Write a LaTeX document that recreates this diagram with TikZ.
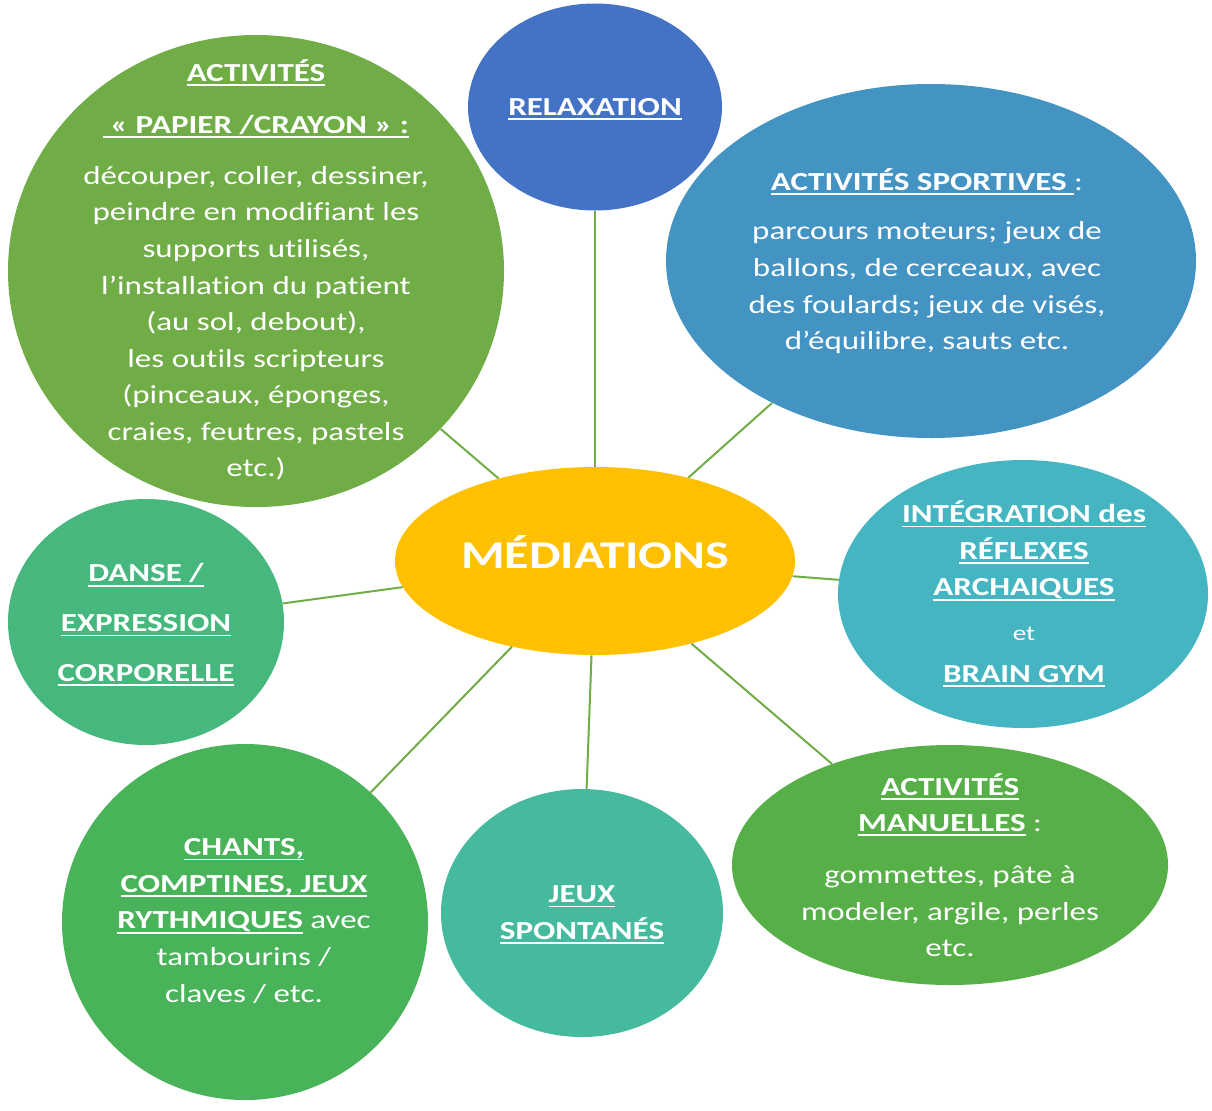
\documentclass[tikz,border=0pt]{standalone}
\usepackage{fontspec}
\setmainfont{Carlito}[FakeStretch=1.27, Ligatures=NoCommon]
\usetikzlibrary{shapes.geometric}
\newcommand\ulx[1]{\leavevmode\setbox0\hbox{#1}\rlap{\rule[-3.4pt]{\wd0}{1.4pt}}\box0}
\definecolor{cPap}{HTML}{70AD47}
\definecolor{cRel}{HTML}{4472C4}
\definecolor{cSpo}{HTML}{4494C3}
\definecolor{cInt}{HTML}{45B6C1}
\definecolor{cDan}{HTML}{46B87E}
\definecolor{cCha}{HTML}{48B359}
\definecolor{cJeu}{HTML}{45BA9F}
\definecolor{cMan}{HTML}{57AF48}
\definecolor{cMed}{HTML}{FFC000}
\definecolor{cLink}{HTML}{70AD47}
\newcommand\bodyfont{\fontsize{19.5}{27.4}\selectfont}
\begin{document}
\begin{tikzpicture}[x=0.75pt,y=-0.75pt,
  blob/.style 2 args={ellipse, draw=none, inner sep=0pt, minimum width=#1*0.75pt, minimum height=#2*0.75pt},
  txt/.style={text=white, align=center, inner sep=0pt, font=\bodyfont},
  link/.style={draw=cLink, line width=1.5pt}]
\useasboundingbox (0,0) rectangle (1212,1110);
\fill[white] (0,0) rectangle (1212,1110);
% shapes
\node[blob={496}{472}, fill=cPap] (pap) at (256,271) {};
\node[blob={254}{207}, fill=cRel] (rel) at (595,107) {};
\node[blob={530}{354}, fill=cSpo] (spo) at (931,261) {};
\node[blob={370}{268}, fill=cInt] (int) at (1023,594) {};
\node[blob={276}{246}, fill=cDan] (dan) at (146,622) {};
\node[blob={366}{356}, fill=cCha] (cha) at (245,922) {};
\node[blob={282}{248}, fill=cJeu] (jeu) at (582,913) {};
\node[blob={436}{240}, fill=cMan] (man) at (950,865) {};
\node[blob={400}{188}, fill=cMed] (med) at (595,561) {};
% connectors
\draw[link] (med) -- (rel);
\draw[link] (med) -- (pap);
\draw[link] (med) -- (spo);
\draw[link] (med) -- (int);
\draw[link] (med) -- (dan);
\draw[link] (med) -- (cha);
\draw[link] (med) -- (jeu);
\draw[link] (med) -- (man);
% texts
\node[txt, font=\fontsize{29.5}{34}\selectfont\bfseries] (medT) at (595,552) {MÉDIATIONS};
\node[txt, font=\bodyfont\bfseries] (relT) at (595,109) {\ulx{RELAXATION}};
\node[txt] (papT) at (256,270) {%
{\bfseries\ulx{ACTIVITÉS}}\\[11.6pt]
{\bfseries\ulx{~« PAPIER /CRAYON » :}}\\[10.8pt]
découper, coller, dessiner,\\ peindre en modifiant les\\ supports utilisés,\\
l’installation du patient\\ (au sol, debout),\\ les outils scripteurs\\
(pinceaux, éponges,\\ craies, feutres, pastels\\ etc.)};
\node[txt] (spoT) at (927,261) {%
{\bfseries\ulx{ACTIVITÉS SPORTIVES~}}:\\[10pt]
parcours moteurs; jeux de\\ ballons, de cerceaux, avec\\
des foulards; jeux de visés,\\ d’équilibre, sauts etc.};
\node[txt, font=\bodyfont\bfseries] (intT) at (1024,594) {%
\ulx{INTÉGRATION des}\\ \ulx{RÉFLEXES}\\ \ulx{ARCHAIQUES}\\[6pt]
{\mdseries\fontsize{16}{18}\selectfont et}\\[4pt]
\ulx{BRAIN GYM}};
\node[txt, font=\bodyfont\bfseries] (danT) at (146,625) {%
\ulx{DANSE /}\\[10pt] \ulx{EXPRESSION}\\[10pt] \ulx{CORPORELLE}};
\node[txt] (chaT) at (244,921) {%
{\bfseries\ulx{CHANTS,}}\\ {\bfseries\ulx{COMPTINES, JEUX}}\\
{\bfseries\ulx{RYTHMIQUES}} avec\\ tambourins /\\ claves / etc.};
\node[txt, font=\bodyfont\bfseries] (jeuT) at (582,915) {%
\ulx{JEUX}\\ \ulx{SPONTANÉS}};
\node[txt] (manT) at (950,865) {%
{\bfseries\ulx{ACTIVITÉS}}\\ {\bfseries\ulx{MANUELLES}} :\\[11.6pt]
gommettes, pâte à\\ modeler, argile, perles\\ etc.};
\end{tikzpicture}
\end{document}
